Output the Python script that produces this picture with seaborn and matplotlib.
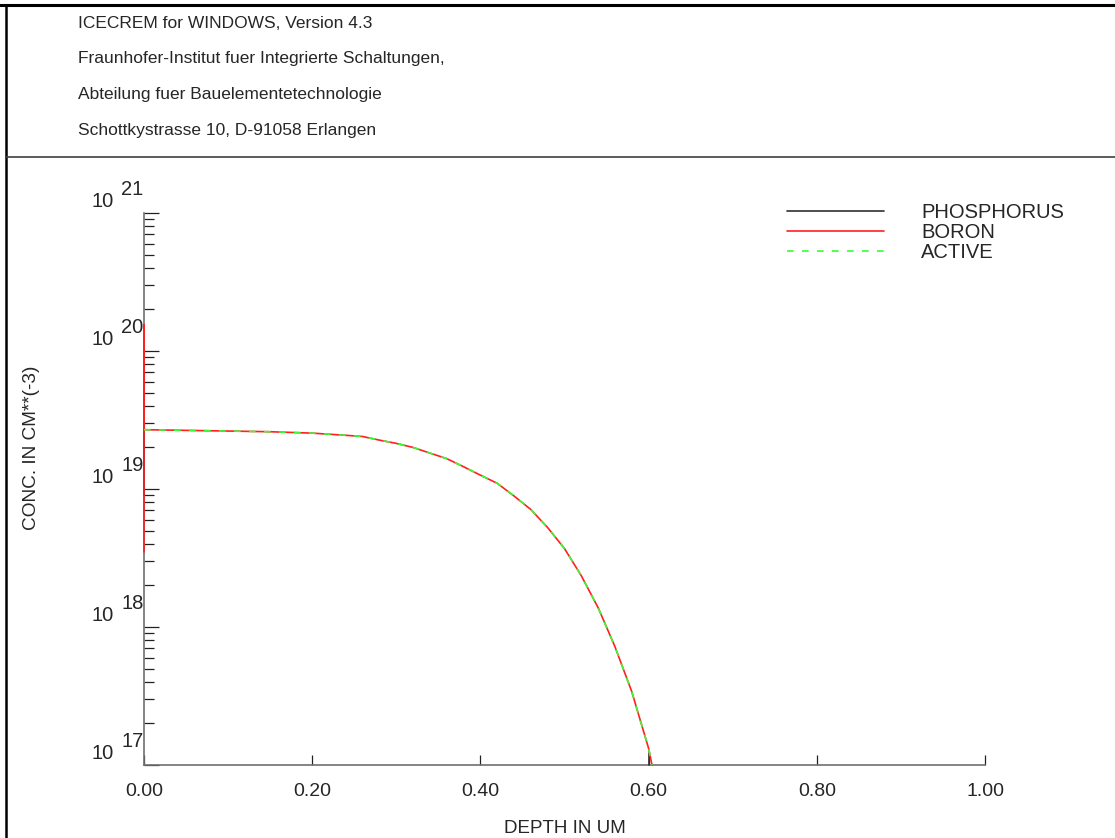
import numpy as np
import pandas as pd
import matplotlib
matplotlib.use("Agg")
import matplotlib.pyplot as plt
from matplotlib.lines import Line2D
import seaborn as sns

# Profile data
depth_um = [0.0, 0.0, 0.0, 0.05, 0.10, 0.15, 0.20, 0.24, 0.26, 0.28, 0.30, 0.32, 0.34,
            0.36, 0.38, 0.40, 0.42, 0.44, 0.46, 0.48, 0.50, 0.52, 0.54, 0.56, 0.58,
            0.60, 0.604]
boron = [3.5e18, 1.54e20, 2.69e19, 2.66e19, 2.63e19, 2.60e19, 2.54e19, 2.45e19, 2.40e19,
         2.26e19, 2.14e19, 2.0e19, 1.82e19, 1.66e19, 1.45e19, 1.26e19, 1.10e19, 8.9e18,
         7.1e18, 5.25e18, 3.7e18, 2.35e18, 1.38e18, 7.2e17, 3.4e17, 1.32e17, 1.0e17]
active = [np.nan, np.nan, 2.69e19, 2.66e19, 2.63e19, 2.60e19, 2.54e19, 2.45e19, 2.40e19,
          2.26e19, 2.14e19, 2.0e19, 1.82e19, 1.66e19, 1.45e19, 1.26e19, 1.10e19, 8.9e18,
          7.1e18, 5.25e18, 3.7e18, 2.35e18, 1.38e18, 7.2e17, 3.4e17, 1.32e17, 1.0e17]
phos_depth = [0.0, 0.0, np.nan, 0.601, 0.601]
phosphorus = [5.4e19, 9.0e18, np.nan, 1.0e17, 1.22e17]

x_ticks = [0.0, 0.2, 0.4, 0.6, 0.8, 1.0]
decades = [17, 18, 19, 20, 21]

header = ["ICECREM for WINDOWS, Version 4.3",
          "Fraunhofer-Institut fuer Integrierte Schaltungen,",
          "Abteilung fuer Bauelementetechnologie",
          "Schottkystrasse 10, D-91058 Erlangen"]

sns.set_style("white")
plt.rcParams["font.family"] = ["Liberation Sans", "DejaVu Sans"]

W, H = 1115, 838
fig = plt.figure(figsize=(W / 100, H / 100), dpi=100)
ax = fig.add_axes([144 / W, 1 - 765 / H, 841 / W, 552 / H])

df_b = pd.DataFrame({"depth": depth_um, "conc": boron})
df_a = pd.DataFrame({"depth": depth_um, "conc": active})
df_p = pd.DataFrame({"depth": phos_depth, "conc": phosphorus})

ax.plot(df_p["depth"], df_p["conc"], color="#303030", lw=1.2, label="PHOSPHORUS")
sns.lineplot(data=df_b, x="depth", y="conc", ax=ax, color="#ff2020", lw=1.2,
             sort=False, estimator=None, label="BORON")
sns.lineplot(data=df_a, x="depth", y="conc", ax=ax, color="#33ff33", lw=1.2,
             sort=False, estimator=None, label="ACTIVE", dashes=False)
ax.lines[-1].set_dashes([4, 5])
for ln in ax.lines:
    ln.set_zorder(3)
    ln.set_clip_on(False)

ax.set_yscale("log")
ax.set_xlim(0, 1.0)
ax.set_ylim(1e17, 1e21)

for s in ["top", "right"]:
    ax.spines[s].set_visible(False)
for s in ["left", "bottom"]:
    ax.spines[s].set_color("#707070")
    ax.spines[s].set_linewidth(1.2)

ax.set_xticks(x_ticks)
ax.set_xticklabels([f"{v:.2f}" for v in x_ticks], fontsize=14)
ax.tick_params(axis="x", bottom=True, direction="in", length=7.5, width=0.9,
               color="#202020", pad=13)
ax.set_yticks([10.0 ** d for d in decades])
ax.set_yticklabels([])
ax.yaxis.set_minor_locator(matplotlib.ticker.LogLocator(base=10, subs=np.arange(2, 10)))
ax.yaxis.set_minor_formatter(matplotlib.ticker.NullFormatter())
ax.tick_params(axis="y", which="major", left=True, direction="in", length=11, width=0.9,
               color="#202020")
ax.tick_params(axis="y", which="minor", left=True, direction="in", length=7.5, width=0.9,
               color="#202020")

ytr = ax.get_yaxis_transform()
for d in decades:
    ax.text(-0.049, 10.0 ** (d + 0.08), "10", transform=ytr, fontsize=14.5,
            ha="center", va="center")
    ax.text(-0.014, 10.0 ** (d + 0.17), str(d), transform=ytr, fontsize=14.5,
            ha="center", va="center")

ax.set_xlabel("")
ax.set_ylabel("")
fig.text(565 / W, 1 - 828 / H, "DEPTH IN UM", fontsize=13.5, ha="center", va="center")
fig.text(32 / W, 1 - 448 / H, "CONC. IN CM**(-3)", fontsize=13.7, ha="center",
         va="center", rotation=90)

leg = ax.legend(loc="upper left", bbox_to_anchor=(787 / W, 1 - 203 / H),
                bbox_transform=fig.transFigure, frameon=False, fontsize=14.5,
                handlelength=4.8, handletextpad=1.85, labelspacing=0.05,
                borderpad=0, borderaxespad=0)

# header block and frame
for i, line in enumerate(header):
    fig.text(78 / W, 1 - (28 + 35.5 * i) / H, line, fontsize=12.5, ha="left",
             va="baseline")
fig.add_artist(Line2D([0, 1], [1 - 5 / H, 1 - 5 / H], transform=fig.transFigure,
                      color="black", lw=2.2))
fig.add_artist(Line2D([6 / W, 6 / W], [0, 1 - 5 / H], transform=fig.transFigure,
                      color="black", lw=1.8))
fig.add_artist(Line2D([6 / W, 1], [1 - 157 / H, 1 - 157 / H], transform=fig.transFigure,
                      color="#404040", lw=1.2))

fig.savefig("out.png", dpi=100)
